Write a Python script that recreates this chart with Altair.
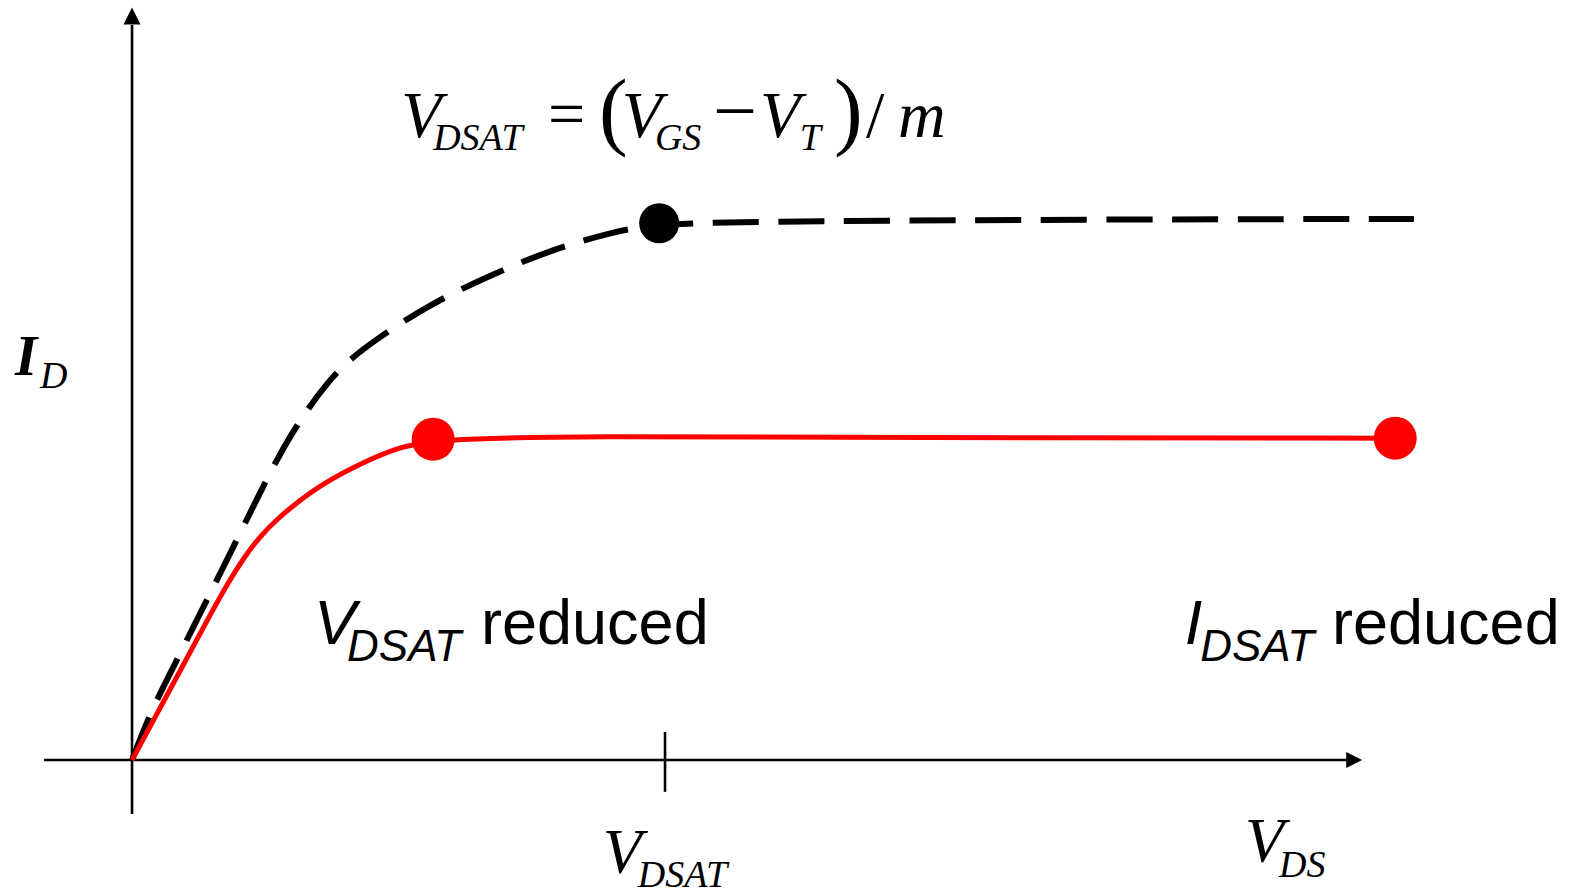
import math

import altair as alt
import pandas as pd

# Output characteristics in normalised units:
# V_DS / V_DSAT (long channel) and I_D / I_DSAT (long channel)
long_vds = [0.0, 0.034, 0.075, 0.128, 0.178, 0.235, 0.270, 0.300, 0.330, 0.362,
            0.400, 0.456, 0.557, 0.668, 0.781, 0.901, 0.989, 1.253, 1.816, 2.405]
long_id = [0.0, 0.087, 0.167, 0.272, 0.370, 0.485, 0.553, 0.605, 0.650, 0.693,
           0.735, 0.778, 0.843, 0.896, 0.943, 0.978, 0.994, 0.998, 1.001, 1.002]

short_vds = [0.0, 0.058, 0.114, 0.150, 0.180, 0.210, 0.240, 0.272, 0.310, 0.358,
             0.433, 0.497, 0.565, 0.841, 1.441, 2.370]
short_id = [0.0, 0.106, 0.209, 0.275, 0.328, 0.375, 0.414, 0.446, 0.477, 0.512,
            0.551, 0.578, 0.594, 0.600, 0.597, 0.596]

# saturation points
long_sat_vds, long_sat_id = [0.989], [0.994]
short_sat_vds = [0.565, 2.370]
short_sat_id = [0.594, 0.596]

# hand-drawn axes (arrows) and the V_DSAT tick
x_axis_from, x_axis_to = -0.165, 2.285
y_axis_from, y_axis_to = -0.10, 1.361
x_arrow_at = 2.293
y_arrow_at = 1.378
tick_x, tick_lo, tick_hi = 1.0, -0.059, 0.052

W, H = 1579, 893
x_dom = [-0.2477, 2.7148]
y_dom = [-0.2463, 1.4074]
xs = alt.Scale(domain=x_dom, nice=False, zero=False)
ys = alt.Scale(domain=y_dom, nice=False, zero=False)

# dash pattern sized so the dashed curve ends on a full dash
px_x = W / (x_dom[1] - x_dom[0])
px_y = H / (y_dom[1] - y_dom[0])
path_len = sum(
    math.hypot((long_vds[k + 1] - long_vds[k]) * px_x, (long_id[k + 1] - long_id[k]) * px_y)
    for k in range(len(long_vds) - 1)
)
dash = 46
n_periods = round((path_len - dash) / 65)
gap = (path_len - dash) / n_periods - dash


def X(f="x"):
    return alt.X(f"{f}:Q", scale=xs, axis=None)


def Y(f="y"):
    return alt.Y(f"{f}:Q", scale=ys, axis=None)


long_df = pd.DataFrame({"x": long_vds, "y": long_id, "i": range(len(long_vds))})
short_df = pd.DataFrame({"x": short_vds, "y": short_id, "i": range(len(short_vds))})

axes_df = pd.DataFrame({
    "x": [x_axis_from, 0.0, tick_x],
    "x2": [x_axis_to, 0.0, tick_x],
    "y": [0.0, y_axis_from, tick_lo],
    "y2": [0.0, y_axis_to, tick_hi],
})
axes = alt.Chart(axes_df).mark_rule(color="black", strokeWidth=2.6).encode(
    x=X("x"), x2="x2:Q", y=Y("y"), y2="y2:Q"
)

arrow_right = alt.Chart(pd.DataFrame({"x": [x_arrow_at], "y": [0.0]})).mark_point(
    shape="M1,0L-1,-1L-1,1Z", filled=True, color="black", opacity=1, size=256
).encode(x=X(), y=Y())
arrow_up = alt.Chart(pd.DataFrame({"x": [0.0], "y": [y_arrow_at]})).mark_point(
    shape="M0,-1L1,1L-1,1Z", filled=True, color="black", opacity=1, size=289
).encode(x=X(), y=Y())

long_line = alt.Chart(long_df).mark_line(
    color="black", strokeWidth=6, strokeDash=[dash, round(gap, 2)], interpolate="basis"
).encode(x=X(), y=Y(), order="i:Q")

short_line = alt.Chart(short_df).mark_line(
    color="#ff0000", strokeWidth=5, interpolate="basis"
).encode(x=X(), y=Y(), order="i:Q")

long_dot = alt.Chart(pd.DataFrame({"x": long_sat_vds, "y": long_sat_id})).mark_circle(
    color="black", opacity=1, size=1600
).encode(x=X(), y=Y())
short_dots = alt.Chart(pd.DataFrame({"x": short_sat_vds, "y": short_sat_id})).mark_circle(
    color="#ff0000", opacity=1, size=1849
).encode(x=X(), y=Y())

# --- labels -------------------------------------------------------------
serif_italic = pd.DataFrame([
    # V_DSAT = (V_GS - V_T) / m
    (0.505, 1.154, "V", 66), (0.565, 1.130, "DSAT", 38),
    (0.919, 1.154, "V", 66), (0.981, 1.130, "GS", 38),
    (1.178, 1.154, "V", 66), (1.253, 1.130, "T", 38),
    (1.437, 1.154, "m", 66),
    (-0.1726, 0.689, "D", 38),
    # V_DSAT under the tick
    (0.883, -0.209, "V", 64), (0.949, -0.235, "DSAT", 38),
    # V_DS
    (2.088, -0.189, "V", 64), (2.152, -0.2167, "DS", 38),
], columns=["x", "y", "t", "fs"])

serif_bold_italic = pd.DataFrame([
    (-0.2195, 0.713, "I", 57),
], columns=["x", "y", "t", "fs"])

serif_upright = pd.DataFrame([
    (0.7805, 1.156, "=", 66),
    (0.876, 1.150, "(", 86),
    (1.090, 1.154, "\u2212", 78),
    (1.317, 1.150, ")", 86),
    (1.377, 1.154, "/", 66),
], columns=["x", "y", "t", "fs"])

sans_italic = pd.DataFrame([
    (0.3415, 0.2148, "V", 63), (0.4034, 0.1833, "DSAT", 44),
    (1.975, 0.2148, "I", 63), (2.004, 0.1833, "DSAT", 44),
], columns=["x", "y", "t", "fs"])

sans_upright = pd.DataFrame([
    (0.6548, 0.2148, "reduced", 63),
    (2.2514, 0.2148, "reduced", 63),
], columns=["x", "y", "t", "fs"])


def text_layer(df, font, style, weight="normal"):
    return alt.Chart(df).mark_text(
        font=font, fontStyle=style, fontWeight=weight, align="left",
        baseline="alphabetic", color="black"
    ).encode(x=X(), y=Y(), text="t:N", size=alt.Size("fs:Q", scale=None))


labels = [
    text_layer(serif_italic, "Liberation Serif", "italic"),
    text_layer(serif_bold_italic, "Liberation Serif", "italic", "bold"),
    text_layer(serif_upright, "Liberation Serif", "normal"),
    text_layer(sans_italic, "Liberation Sans", "italic"),
    text_layer(sans_upright, "Liberation Sans", "normal"),
]

chart = alt.layer(
    axes, arrow_right, arrow_up, long_line, short_line, long_dot, short_dots, *labels
).properties(
    width=W, height=H, padding=0, autosize="none", background="white"
).configure_view(stroke=None)

chart.save("out.html", embed_options={"renderer": "svg", "actions": False})
